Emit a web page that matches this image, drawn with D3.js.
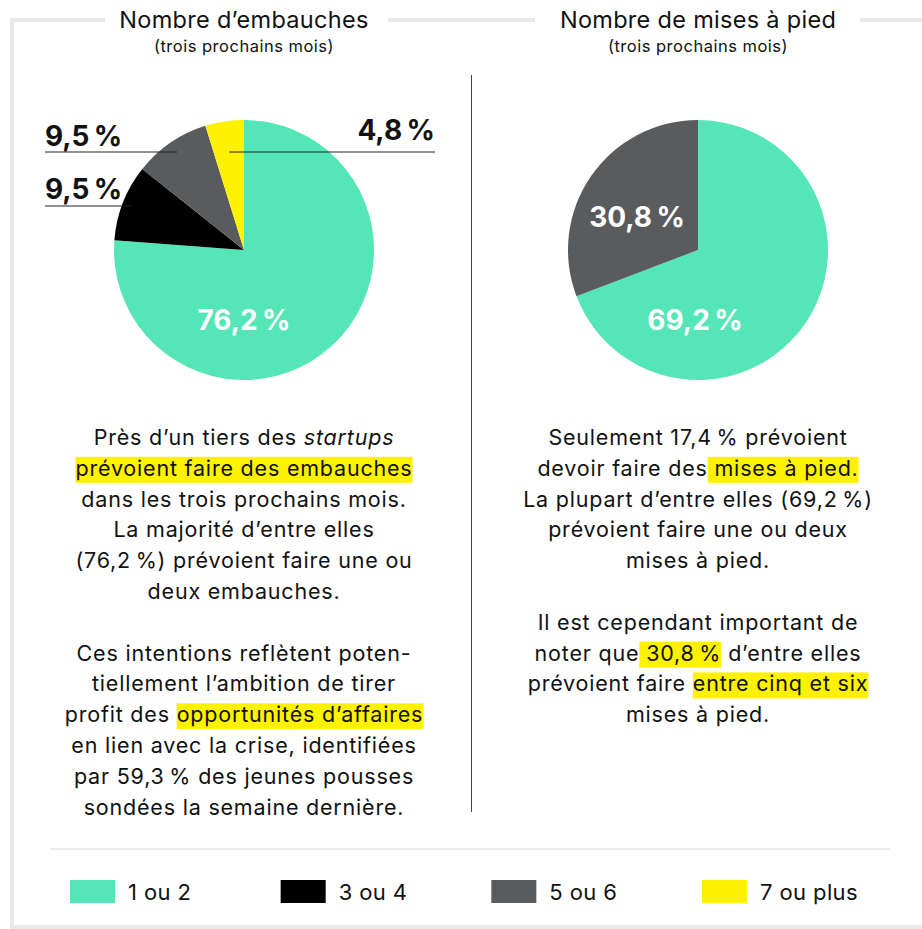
<!DOCTYPE html>
<html>
<head>
<meta charset="utf-8">
<script src="https://cdn.jsdelivr.net/npm/d3@7"></script>
<style>
  body { margin: 0; background: #fff; }
  svg { display: block; font-family: "Inter", "Open Sans", sans-serif; }
</style>
</head>
<body>
<div id="target"></div>
<script>
const categories = ["1 ou 2", "3 ou 4", "5 ou 6", "7 ou plus"];
const hiring = [76.2, 9.5, 9.5, 4.8];
const layoffs = [69.2, 0, 30.8, 0];
const titles = ["Nombre d\u2019embauches", "Nombre de mises à pied"];
const subtitle = "(trois prochains mois)";

// paragraphs: each line is a list of [text, style] pieces (h = highlight, i = italic)
const leftText = [
  [["Près d\u2019un tiers des ", ""], ["startups", "i"]],
  [["prévoient faire des embauches ", "h"]],
  [["dans les trois prochains mois.", ""]],
  [["La majorité d\u2019entre elles", ""]],
  [["(76,2\u202F%) prévoient faire une ou", ""]],
  [["deux embauches.", ""]],
  null,
  [["Ces intentions reflètent poten-", ""]],
  [["tiellement l\u2019ambition de tirer", ""]],
  [["profit des ", ""], ["opportunités d\u2019affaires ", "h"]],
  [["en lien avec la crise, identifiées", ""]],
  [["par 59,3\u202F% des jeunes pousses", ""]],
  [["sondées la semaine dernière.", ""]]
];
const rightText = [
  [["Seulement 17,4\u202F% prévoient", ""]],
  [["devoir faire des", ""], [" mises à pied.", "h"]],
  [["La plupart d\u2019entre elles (69,2\u202F%)", ""]],
  [["prévoient faire une ou deux", ""]],
  [["mises à pied.", ""]],
  null,
  [["Il est cependant important de", ""]],
  [["noter que", ""], [" 30,8\u202F%", "h"], [" d\u2019entre elles", ""]],
  [["prévoient faire ", ""], ["entre cinq et six", "h"]],
  [["mises à pied.", ""]]
];

const width = 922, height = 929;
const color = d3.scaleOrdinal()
  .domain(categories)
  .range(["#55e6b7", "#000000", "#5a5b5d", "#fff200"]);
const fmt = v => d3.format(".1f")(v).replace(".", ",") + "\u202F%";

const svg = d3.select("#target").append("svg")
  .attr("width", width)
  .attr("height", height);

// frame
const frame = svg.append("g").attr("stroke", "#e9e9e9").attr("stroke-width", 4).attr("fill", "none");
frame.append("path").attr("d", "M12,929V20H105");
frame.append("path").attr("d", "M388,20H535");
frame.append("path").attr("d", "M860,20H922");
frame.append("path").attr("d", "M12,927H922");
svg.append("line")
  .attr("x1", 50).attr("x2", 890).attr("y1", 849).attr("y2", 849)
  .attr("stroke", "#ececec").attr("stroke-width", 2);
svg.append("line")
  .attr("x1", 471.5).attr("x2", 471.5).attr("y1", 75).attr("y2", 812)
  .attr("stroke", "#444").attr("stroke-width", 1);

const radius = 130;
const pie = d3.pie().sort(null).value(d => d.value);
const arc = d3.arc().innerRadius(0).outerRadius(radius);

function drawPanel(cx, values, title, lines, opts) {
  const g = svg.append("g");
  g.append("text")
    .attr("x", cx).attr("y", 28)
    .attr("text-anchor", "middle")
    .attr("font-size", 23.5)
    .attr("letter-spacing", 0.3)
    .attr("fill", "#111")
    .text(title);
  g.append("text")
    .attr("x", cx).attr("y", 52)
    .attr("text-anchor", "middle")
    .attr("font-size", 16.5)
    .attr("letter-spacing", 0.5)
    .attr("fill", "#111")
    .text(subtitle);

  const data = pie(values.map((v, i) => ({ key: categories[i], value: v })));
  const shown = data.filter(d => d.value > 0);
  const pg = g.append("g").attr("transform", `translate(${cx},250)`);
  pg.selectAll("path")
    .data(shown)
    .join("path")
    .attr("d", arc)
    .attr("fill", d => color(d.data.key));

  shown.forEach(d => {
    const mid = (d.startAngle + d.endAngle) / 2;
    if (d.value > 20) {
      // inside label
      const c = opts.inside[d.index] || d3.arc().innerRadius(0).outerRadius(radius * 1.2).centroid(d);
      pg.append("text")
        .attr("x", c[0]).attr("y", c[1])
        .attr("dy", "0.36em")
        .attr("text-anchor", "middle")
        .attr("font-size", 28)
        .attr("font-weight", 700)
        .attr("fill", "#fff")
        .text(fmt(d.value));
    } else {
      // callout label with horizontal leader line
      const ly = opts.callout[d.index][0] - 250;
      let lx = -ly * Math.tan(mid);
      lx = Math.max(lx, -Math.sqrt(radius * radius - ly * ly) + 8);
      const left = mid < Math.PI * 1.9;
      const x0 = left ? 45 - cx : 435 - cx;
      pg.append("line")
        .attr("x1", x0).attr("x2", lx)
        .attr("y1", ly).attr("y2", ly)
        .attr("stroke", "#222").attr("stroke-width", 1);
      pg.append("text")
        .attr("x", x0).attr("y", ly - opts.callout[d.index][1])
        .attr("text-anchor", left ? "start" : "end")
        .attr("font-size", 28)
        .attr("font-weight", 700)
        .attr("fill", "#111")
        .text(fmt(d.value));
    }
  });

  // paragraph text
  const tg = g.append("g").attr("font-size", 21.5).attr("letter-spacing", 0.8).attr("fill", "#111");
  lines.forEach((line, i) => {
    if (!line) return;
    const y = 445 + i * 30.8;
    const t = tg.append("text")
      .attr("x", cx).attr("y", y)
      .attr("text-anchor", "middle");
    line.forEach(([s, st]) => {
      const sp = t.append("tspan").text(s).attr("font-style", st === "i" ? "italic" : null);
      if (st === "h") sp.attr("class", "hl");
    });
    t.selectAll("tspan.hl").each(function () {
      const x = this.getStartPositionOfChar(0).x;
      const w = this.getComputedTextLength();
      tg.insert("rect", "text")
        .attr("x", x).attr("y", y - 19)
        .attr("width", w).attr("height", 26)
        .attr("fill", "#fff200");
    });
  });
}

drawPanel(244, hiring, titles[0], leftText, {
  inside: { 0: [0, 70] },
  callout: { 1: [206, 7], 2: [152, 6], 3: [152, 12] }
});
drawPanel(698, layoffs, titles[1], rightText, {
  inside: { 0: [-3, 70], 2: [-61, -33] },
  callout: {}
});

// legend
const lg = svg.append("g").attr("transform", "translate(0,880)");
const lx = d3.scalePoint().domain(categories).range([70, 702]);
const item = lg.selectAll("g").data(categories).join("g")
  .attr("transform", d => `translate(${lx(d)},0)`);
item.append("rect").attr("width", 45).attr("height", 23).attr("fill", d => color(d));
item.append("text")
  .attr("x", 58).attr("y", 12)
  .attr("dy", "0.36em")
  .attr("font-size", 22)
  .attr("letter-spacing", 0.4)
  .attr("fill", "#111")
  .text(d => d);
</script>
</body>
</html>
